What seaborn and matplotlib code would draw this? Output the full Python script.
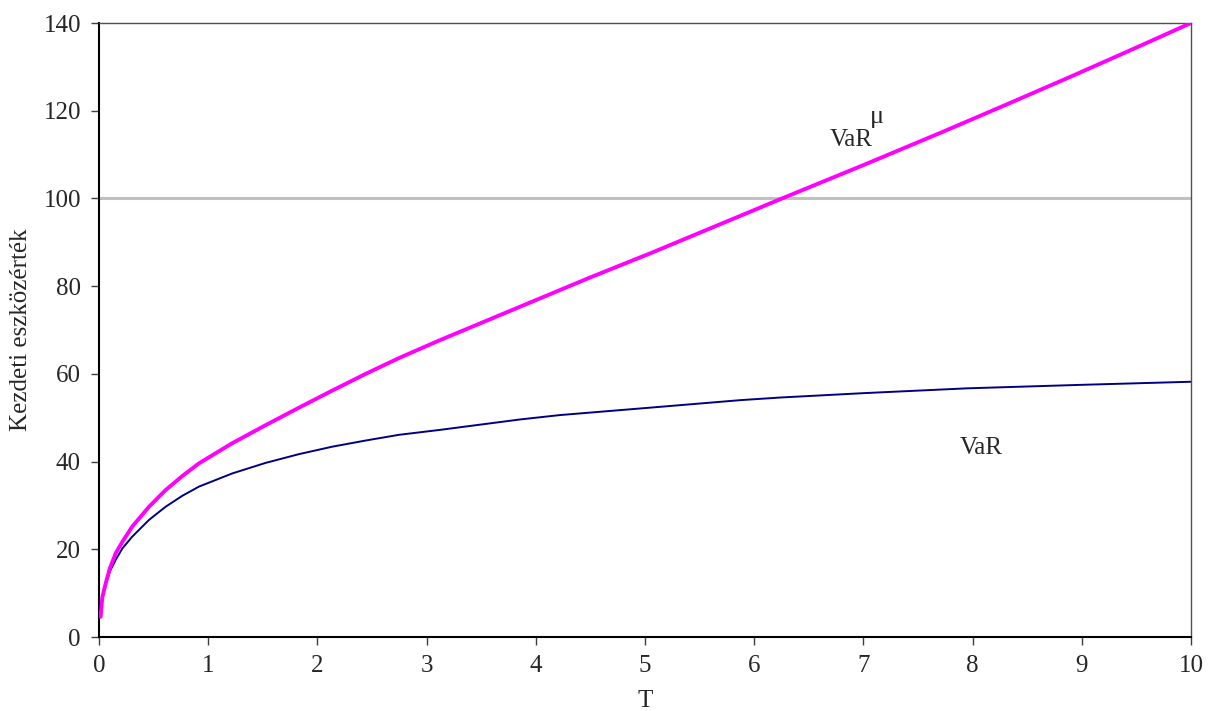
import numpy as np
import matplotlib
matplotlib.use("Agg")
import matplotlib.pyplot as plt
import seaborn as sns
import pandas as pd

# Values
t_mu = [0.015, 0.03, 0.061, 0.1, 0.153, 0.214, 0.305, 0.458, 0.61, 0.763, 0.916,
        1.221, 1.526, 1.832, 2.137, 2.442, 2.747, 3.114, 3.855, 4.5, 5.05, 5.87,
        6.236, 7.0, 7.70, 8.3, 8.92, 9.5, 10.0]
var_mu = [4.6, 9.0, 12.2, 15.7, 19.1, 21.7, 25.2, 29.7, 33.5, 36.7, 39.6,
          44.2, 48.3, 52.3, 56.2, 60.0, 63.6, 67.6, 75.3, 82.0, 87.5, 96.0,
          99.8, 107.6, 114.9, 121.3, 128.0, 134.4, 140.0]

t_var = [0.015, 0.03, 0.061, 0.1, 0.153, 0.214, 0.305, 0.458, 0.61, 0.763, 0.916,
         1.221, 1.526, 1.832, 2.137, 2.442, 2.747, 3.114, 3.855, 4.22, 5.05, 5.87,
         6.236, 7.0, 7.95, 9.0, 10.0]
var = [4.6, 9.1, 12.0, 15.0, 17.6, 20.2, 22.9, 26.7, 29.7, 32.2, 34.3,
       37.3, 39.7, 41.7, 43.4, 44.8, 46.1, 47.2, 49.6, 50.6, 52.3, 54.0,
       54.6, 55.6, 56.7, 57.5, 58.2]

initial_value = 100
x_ticks = list(range(0, 11))
y_ticks = list(range(0, 141, 20))

sns.set_theme(style="white")
plt.rcParams['font.family'] = ['Liberation Serif', 'Times New Roman', 'STIXGeneral', 'DejaVu Serif']
fs = 18

df_mu = pd.DataFrame({"T": t_mu, "v": var_mu})
df_var = pd.DataFrame({"T": t_var, "v": var})

fig = plt.figure(figsize=(12.18, 7.11), dpi=100)
ax = fig.add_axes([99 / 1218, 1 - 637 / 711, (1191 - 99) / 1218, (637 - 23) / 711])

ax.axhline(initial_value, color="#c0c0c0", lw=2.2, zorder=1)
sns.lineplot(data=df_var, x="T", y="v", ax=ax, color="#000080", lw=1.4, zorder=2)
sns.lineplot(data=df_mu, x="T", y="v", ax=ax, color="#ff00ff", lw=2.8, zorder=3)

ax.set_xlim(0, 10)
ax.set_ylim(0, 140)
ax.set_xticks(x_ticks)
ax.set_yticks(y_ticks)
ax.tick_params(axis="both", which="major", labelsize=fs, direction="out",
               length=6, width=1, color="#404040", pad=7, bottom=True, left=True)
ax.set_xlabel("T", fontsize=fs, labelpad=9)
ax.set_ylabel("Kezdeti eszközérték", fontsize=fs, labelpad=8)

for side in ["left", "bottom"]:
    ax.spines[side].set_color("black")
    ax.spines[side].set_linewidth(1.5)
for side in ["top", "right"]:
    ax.spines[side].set_color("#505050")
    ax.spines[side].set_linewidth(1.0)

ax.text(6.886, 113.3, "VaR", fontsize=fs, ha="center", va="center")
ax.text(7.12, 118.5, "μ", fontsize=fs + 1, ha="center", va="center")
ax.text(8.08, 43.1, "VaR", fontsize=fs, ha="center", va="center")

fig.savefig("out.png", dpi=100)
